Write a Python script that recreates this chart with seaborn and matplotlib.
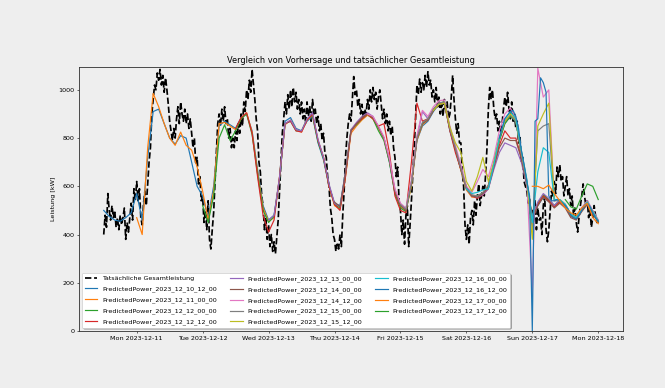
import pandas as pd
import matplotlib
matplotlib.use("Agg")
import matplotlib.pyplot as plt
import matplotlib.dates as mdates
import seaborn as sns

# ---------------- data ----------------
actual_start = "2023-12-10 12:00"   # half-hourly values
actual_kw = [
    # 12-10 12:00..23:30
    400, 480, 430, 570, 500, 460, 520, 470, 500, 430, 470, 420,
    480, 440, 470, 510, 380, 450, 410, 470, 530, 460, 590, 540,
    # 12-11
    620, 540, 590, 470, 440, 530, 580, 520, 610, 700, 760, 900,
    960, 1020, 1000, 1070, 1040, 1085, 1020, 1060, 990, 1050, 1000, 940,
    870, 830, 790, 840, 800, 880, 930, 860, 950, 900, 870, 920,
    860, 900, 840, 880, 820, 760, 800, 690, 720, 610, 640, 540,
    # 12-12
    560, 450, 500, 420, 540, 380, 340, 420, 490, 620, 740, 860,
    900, 850, 920, 870, 930, 860, 880, 800, 840, 760, 800, 760,
    830, 790, 860, 820, 900, 850, 950, 910, 1000, 960, 1040, 990,
    1085, 1020, 960, 880, 830, 700, 660, 560, 520, 420, 470, 380,
    # 12-13
    440, 350, 400, 330, 370, 320, 390, 460, 580, 700, 820, 880,
    950, 900, 980, 920, 1000, 930, 1010, 950, 990, 920, 960, 900,
    950, 880, 920, 860, 950, 890, 930, 870, 960, 900, 920, 860,
    890, 830, 860, 790, 820, 740, 720, 640, 600, 510, 470, 400,
    # 12-14
    380, 330, 360, 340, 400, 350, 480, 580, 720, 800, 860, 900,
    870, 960, 1055, 980, 1000, 930, 960, 900, 940, 880, 920, 900,
    960, 920, 1000, 950, 1010, 960, 990, 920, 970, 1000, 940, 880,
    920, 860, 900, 830, 870, 810, 850, 760, 720, 640, 680, 540,
    # 12-15
    500, 400, 460, 360, 480, 520, 350, 440, 540, 650, 760, 880,
    1020, 980, 1045, 990, 1030, 1000, 1060, 1010, 1075, 1020, 1040, 970,
    1000, 950, 1010, 930, 970, 900, 940, 890, 960, 910, 950, 880,
    900, 970, 1060, 960, 880, 820, 860, 780, 780, 660, 600, 440,
    # 12-16
    380, 440, 360, 470, 500, 440, 540, 480, 560, 610, 520, 560,
    600, 560, 650, 760, 920, 1010, 960, 1000, 920, 880, 900, 830,
    870, 820, 860, 920, 970, 930, 990, 920, 880, 950, 870, 900,
    840, 870, 780, 810, 700, 720, 620, 600, 580, 530, 550, 460,
    # 12-17
    500, 450, 540, 420, 510, 460, 470, 400, 520, 560, 420, 370,
    420, 500, 580, 560, 620, 570, 680, 640, 690, 620, 640, 560,
    600, 640, 560, 590, 520, 560, 480, 510, 450, 410, 470, 520,
    560, 610, 560, 520, 540, 470, 500, 430, 470, 520, 480, 450,
    # 12-18 00:00
    460,
]

forecast_names = [
    "PredictedPower_2023_12_10_12_00", "PredictedPower_2023_12_11_00_00",
    "PredictedPower_2023_12_12_00_00", "PredictedPower_2023_12_12_12_00",
    "PredictedPower_2023_12_13_00_00", "PredictedPower_2023_12_14_00_00",
    "PredictedPower_2023_12_14_12_00", "PredictedPower_2023_12_15_00_00",
    "PredictedPower_2023_12_15_12_00", "PredictedPower_2023_12_16_00_00",
    "PredictedPower_2023_12_16_12_00", "PredictedPower_2023_12_17_00_00",
    "PredictedPower_2023_12_17_12_00",
]
forecast_starts = [
    "2023-12-10 12:00", "2023-12-11 00:00", "2023-12-12 00:00", "2023-12-12 12:00",
    "2023-12-13 00:00", "2023-12-14 00:00", "2023-12-14 12:00", "2023-12-15 00:00",
    "2023-12-15 12:00", "2023-12-16 00:00", "2023-12-16 12:00", "2023-12-17 00:00",
    "2023-12-17 12:00",
]
# sampling step of each forecast series (values run up to 2023-12-18 00:00)
forecast_steps = ["2h", "2h", "2h", "2h", "2h", "2h", "2h", "2h", "2h", "2h",
                  "1h", "2h", "2h"]

pp_10_12 = [
    500, 475, 460, 455, 470, 490,
    570, 460, 720, 910, 920, 860, 800, 775, 810, 800, 700, 600,
    560, 470, 600, 850, 870, 855, 840, 885, 900, 830, 670, 520,
    460, 480, 630, 870, 885, 840, 830, 870, 890, 780, 710, 600,
    530, 520, 660, 830, 860, 880, 895, 885, 845, 800, 700, 570,
    520, 505, 610, 790, 850, 870, 910, 940, 945, 830, 750, 670,
    590, 560, 555, 570, 600, 690, 790, 860, 890, 870, 740, 620,
    470, 520, 555, 540, 520, 540, 520, 485, 470, 505, 530, 495,
    455,
]
pp_11_00 = [
    470, 400, 760, 985, 930, 860, 800, 770, 825, 770, 750, 680,
    580, 460, 580, 860, 865, 850, 835, 880, 905, 825, 660, 510,
    455, 470, 640, 855, 875, 835, 825, 875, 895, 790, 720, 600,
    520, 505, 640, 820, 850, 875, 895, 880, 840, 795, 705, 575,
    515, 500, 600, 790, 855, 875, 915, 940, 945, 835, 755, 665,
    585, 555, 555, 565, 605, 695, 795, 865, 895, 875, 735, 615,
    465, 525, 560, 545, 515, 535, 515, 480, 465, 500, 525, 490,
    450,
]
pp_12_00 = [
    520, 450, 560, 800, 855, 790, 830, 880, 900, 815, 650, 500,
    450, 475, 635, 860, 870, 830, 830, 880, 895, 785, 715, 605,
    525, 510, 650, 835, 855, 880, 900, 880, 830, 790, 700, 570,
    510, 495, 610, 800, 860, 880, 915, 945, 950, 840, 760, 670,
    590, 560, 560, 570, 600, 690, 790, 860, 890, 870, 735, 615,
    470, 530, 565, 545, 520, 540, 520, 485, 470, 500, 530, 495,
    455,
]
pp_12_12 = [
    840, 885, 905, 820, 640, 480,
    410, 460, 640, 860, 870, 830, 825, 875, 900, 790, 720, 600,
    525, 500, 640, 830, 860, 880, 900, 880, 850, 860, 740, 560,
    500, 490, 700, 945, 870, 880, 915, 945, 945, 830, 740, 670,
    600, 560, 550, 565, 590, 680, 770, 830, 800, 800, 720, 610,
    460, 525, 560, 540, 515, 535, 515, 475, 465, 500, 530, 490,
    455,
]
pp_13_00 = [
    460, 480, 640, 860, 875, 835, 830, 880, 905, 795, 720, 610,
    530, 515, 660, 835, 865, 890, 905, 890, 845, 800, 710, 585,
    525, 505, 620, 800, 910, 880, 920, 945, 950, 840, 760, 675,
    590, 560, 555, 565, 590, 670, 740, 780, 770, 760, 700, 600,
    470, 535, 570, 550, 520, 545, 525, 485, 470, 510, 540, 500,
    460,
]
pp_14_00 = [
    535, 515, 655, 830, 860, 885, 900, 885, 845, 800, 710, 580,
    520, 500, 615, 795, 860, 875, 915, 940, 950, 835, 755, 670,
    595, 560, 555, 570, 595, 680, 760, 800, 790, 790, 715, 605,
    465, 520, 555, 535, 510, 530, 510, 470, 460, 495, 525, 485,
    450,
]
pp_14_12 = [
    900, 890, 850, 805, 715, 590,
    530, 510, 625, 810, 915, 890, 930, 955, 958, 850, 770, 690,
    600, 575, 620, 670, 640, 720, 830, 900, 925, 880, 740, 620,
    150, 1090, 970, 1000, 540, 545, 525, 485, 470, 510, 540, 500,
    460,
]
pp_15_00 = [
    525, 505, 615, 800, 865, 880, 920, 945, 950, 840, 760, 675,
    595, 565, 560, 575, 605, 695, 800, 870, 895, 870, 735, 615,
    420, 830, 850, 860, 540, 540, 520, 480, 465, 505, 535, 495,
    455,
]
pp_15_12 = [
    915, 940, 945, 845, 780, 740,
    620, 580, 640, 720, 620, 700, 800, 870, 900, 880, 745, 625,
    380, 850, 900, 945, 545, 545, 525, 485, 470, 505, 535, 495,
    455,
]
pp_16_00 = [
    590, 570, 575, 585, 590, 690, 800, 880, 910, 880, 750, 630,
    450, 660, 760, 740, 545, 545, 525, 485, 470, 505, 535, 495,
    455,
]
pp_16_12 = [   # hourly
    800, 840, 880, 895, 910, 915, 890, 840, 750, 690, 620, 560,
    0, 870, 880, 1050, 1030, 990, 560, 540, 540, 545, 540, 530,
    520, 505, 480, 470, 465, 480, 500, 520, 530, 515, 490, 470,
    455,
]
pp_17_00 = [
    600, 600, 590, 605, 570, 540, 510, 490, 480, 510, 530, 470,
    445,
]
pp_17_12 = [
    545, 515, 505, 560, 610, 600,
    545,
]
forecast_values = [pp_10_12, pp_11_00, pp_12_00, pp_12_12, pp_13_00, pp_14_00,
                   pp_14_12, pp_15_00, pp_15_12, pp_16_00, pp_16_12, pp_17_00,
                   pp_17_12]

# ---------------- plot ----------------
BG = "#eeeeee"
fig = plt.figure(figsize=(14, 8.17), dpi=47.5, facecolor=BG)
ax = fig.add_axes([0.1188, 0.1469, 0.818, 0.6804])
ax.set_facecolor(BG)

actual_df = pd.DataFrame({
    "time": pd.date_range(actual_start, periods=len(actual_kw), freq="30min"),
    "kw": actual_kw,
})
sns.lineplot(data=actual_df, x="time", y="kw", ax=ax, color="black",
             linestyle="--", linewidth=2.6, label="Tatsächliche Gesamtleistung")

palette = sns.color_palette("tab10", 10)
for i, (name, start, step, vals) in enumerate(
        zip(forecast_names, forecast_starts, forecast_steps, forecast_values)):
    df = pd.DataFrame({
        "time": pd.date_range(start, periods=len(vals), freq=step),
        "kw": vals,
    })
    sns.lineplot(data=df, x="time", y="kw", ax=ax, color=palette[i % 10],
                 linewidth=1.8, label=name)

ax.set_ylim(0, 1095)
ax.set_title("Vergleich von Vorhersage und tatsächlicher Gesamtleistung", fontsize=12.6)
ax.set_xlabel("")
ax.set_ylabel("Leistung [kW]", fontsize=9.6)
ax.xaxis.set_major_locator(mdates.DayLocator())
ax.xaxis.set_major_formatter(mdates.DateFormatter("%a %Y-%m-%d"))
ax.tick_params(labelsize=9.6, width=1.1, color="#333333")
for sp in ax.spines.values():
    sp.set_linewidth(1.3)
    sp.set_color("#333333")
ax.legend(loc="lower left", ncol=3, shadow=True, fontsize=9.6, labelspacing=0.75)

fig.savefig("out.png", dpi=47.5, facecolor=BG)
